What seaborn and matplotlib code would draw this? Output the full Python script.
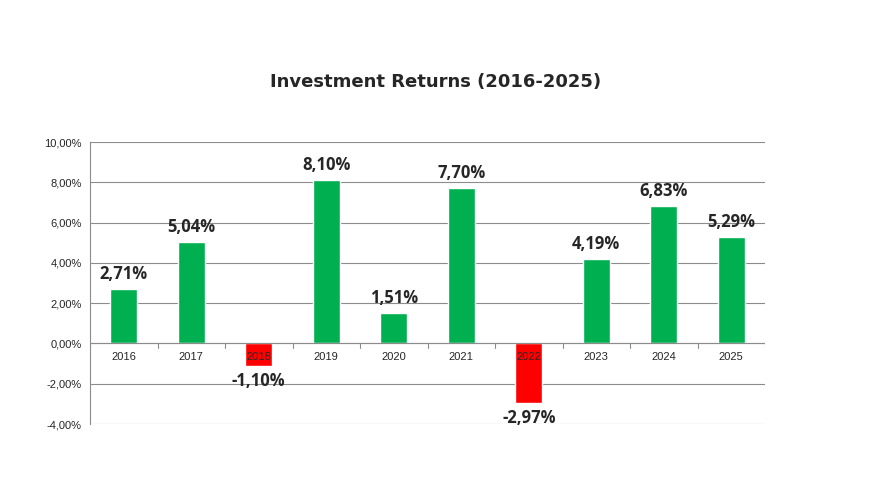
import matplotlib
matplotlib.use('Agg')
import matplotlib.pyplot as plt
import seaborn as sns
import pandas as pd

years = ['2016', '2017', '2018', '2019', '2020', '2021', '2022', '2023', '2024', '2025']
returns = [2.71, 5.04, -1.10, 8.10, 1.51, 7.70, -2.97, 4.19, 6.83, 5.29]

df = pd.DataFrame({'year': years, 'ret': returns})
df['sign'] = ['pos' if r >= 0 else 'neg' for r in returns]

sns.set_style('white')
fig = plt.figure(figsize=(8.71, 4.83), dpi=100)
ax = fig.add_axes([90 / 871, 1 - 424 / 483, 675 / 871, 282 / 483])

sns.barplot(data=df, x='year', y='ret', hue='sign', palette={'pos': '#00B050', 'neg': '#FF0000'},
            width=0.4, dodge=False, legend=False, ax=ax, saturation=1)

ax.set_ylim(-4, 10)
ax.set_xlim(-0.5, 9.5)
ax.set_yticks(range(-4, 11, 2))
ax.set_yticklabels([f'{v:.2f}%'.replace('.', ',') for v in range(-4, 11, 2)], fontsize=8,
                   family='Liberation Sans')
ax.tick_params(axis='y', length=0, pad=6)
ax.set_xticks([])
ax.set_xlabel('')
ax.set_ylabel('')
ax.grid(axis='y', color='#8C8C8C', linewidth=0.8)
ax.set_axisbelow(True)
for s in ['top', 'right', 'bottom']:
    ax.spines[s].set_visible(False)
ax.spines['left'].set_color('#8C8C8C')

# zero line with category tick marks
ax.axhline(0, color='#8C8C8C', linewidth=0.8)
for i in range(11):
    ax.plot([i - 0.5, i - 0.5], [0, -0.25], color='#8C8C8C', linewidth=0.8)

for i, (y, r) in enumerate(zip(years, returns)):
    ax.text(i, -0.45, y, ha='center', va='top', fontsize=8, family='Liberation Sans')
    lbl = f'{r:.2f}%'.replace('.', ',')
    if r >= 0:
        ax.text(i, r + 0.3, lbl, ha='center', va='bottom', fontsize=12, fontweight='bold', family='Open Sans')
    else:
        ax.text(i, r - 0.3, lbl, ha='center', va='top', fontsize=12, fontweight='bold', family='Open Sans')

fig.text(0.5, 1 - 82 / 483, 'Investment Returns (2016-2025)', ha='center', va='center',
         fontsize=13, fontweight='bold', family='DejaVu Sans')

fig.savefig('out.png', dpi=100)
